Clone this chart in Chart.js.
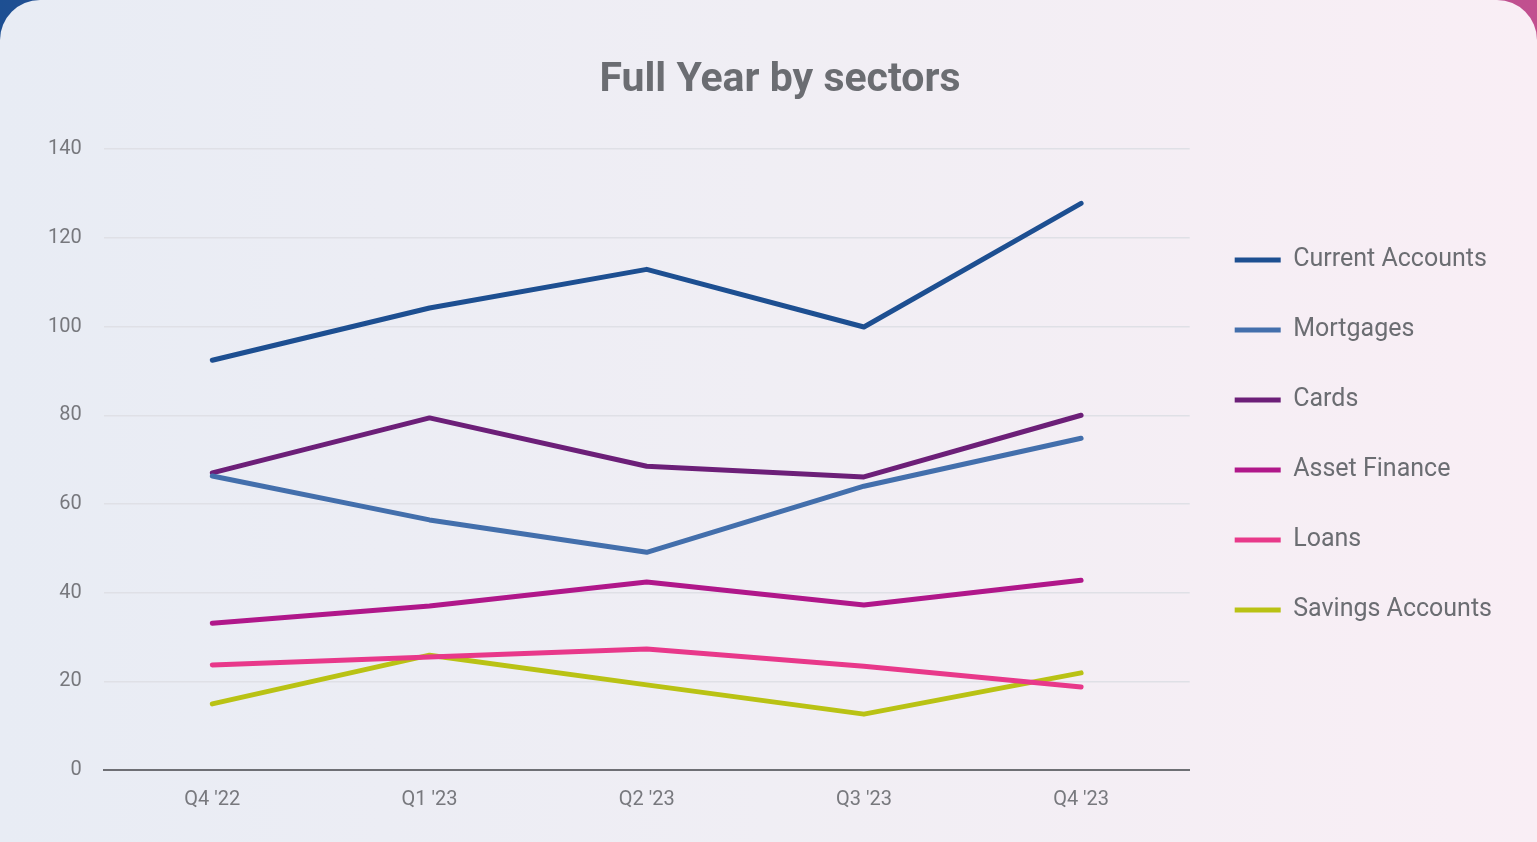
<!DOCTYPE html>
<html>
<head>
<meta charset="utf-8">
<script src="https://cdn.jsdelivr.net/npm/chart.js@4.4.1/dist/chart.umd.min.js"></script>
<style>
  html, body { margin: 0; padding: 0; width: 1537px; height: 842px; overflow: hidden; }
  body { background: linear-gradient(90deg, #1d4f92 0%, #6a4f92 50%, #c2508f 100%); }
  #card { position: absolute; left: 0; top: 0; width: 1537px; height: 900px; border-radius: 40px;
          background: linear-gradient(90deg, #e8ecf4 0%, #f0eef4 50%, #f9eef5 100%); }
  #wrap { position: absolute; left: 0; top: 0; width: 1537px; height: 842px; }
</style>
</head>
<body>
<div id="card"></div>
<div id="wrap"><canvas id="c"></canvas></div>
<script>
const categories = ["Q4 '22", "Q1 '23", "Q2 '23", "Q3 '23", "Q4 '23"];
const currentAccounts = [92.4, 104.2, 112.9, 99.9, 127.8];
const mortgages       = [66.3, 56.4, 49.1, 64.0, 74.8];
const cards           = [67.0, 79.4, 68.5, 66.1, 80.0];
const assetFinance    = [33.1, 37.0, 42.4, 37.2, 42.8];
const loans           = [23.7, 25.5, 27.3, 23.4, 18.7];
const savingsAccounts = [14.9, 25.9, 19.2, 12.6, 21.9];
const yTicks = [0, 20, 40, 60, 80, 100, 120, 140];

const seriesNames = ["Current Accounts", "Mortgages", "Cards", "Asset Finance", "Loans", "Savings Accounts"];
const seriesData = [currentAccounts, mortgages, cards, assetFinance, loans, savingsAccounts];
const seriesColors = ["#1d4f91", "#436fac", "#6c1f78", "#b0178a", "#e8388a", "#b9c214"];

const FONT = "Roboto, 'Noto Sans', sans-serif";
const GREY = "#6b6d72";

const titleShift = {
  id: 'titleShift',
  afterLayout(chart) {
    const t = chart.titleBlock;
    if (t) { t.left += 16; t.right += 16; }
  }
};

new Chart(document.getElementById('c'), {
  type: 'line',
  data: {
    labels: categories,
    datasets: seriesNames.map((n, i) => ({
      label: n,
      data: seriesData[i],
      borderColor: seriesColors[i],
      backgroundColor: seriesColors[i],
      borderWidth: 5,
      borderCapStyle: 'round',
      borderJoinStyle: 'round',
      pointRadius: 0,
      pointHoverRadius: 0,
      tension: 0,
      fill: false
    }))
  },
  plugins: [titleShift],
  options: {
    responsive: true,
    maintainAspectRatio: false,
    animation: false,
    layout: { padding: { left: 26, right: 35, top: 40, bottom: 12 } },
    plugins: {
      title: {
        display: true,
        text: 'Full Year by sectors',
        color: GREY,
        font: { family: FONT, size: 41, weight: 'bold' },
        padding: { top: 16, bottom: 44 }
      },
      legend: {
        position: 'right',
        align: 'center',
        labels: {
          usePointStyle: true,
          pointStyle: 'line',
          pointStyleWidth: 46,
          color: GREY,
          font: { family: FONT, size: 25 },
          padding: 45
        }
      },
      tooltip: { enabled: false }
    },
    scales: {
      x: {
        offset: true,
        grid: { display: false, drawTicks: false },
        border: { display: true, color: '#6e6f74', width: 2 },
        ticks: { color: '#77787d', font: { family: FONT, size: 20 }, padding: 18 }
      },
      y: {
        min: 0, max: 140,
        afterBuildTicks: (axis) => { axis.ticks = yTicks.map(v => ({ value: v })); },
        grid: { color: '#dfe0e6', lineWidth: 1.5, drawTicks: false },
        border: { display: false },
        ticks: { color: '#77787d', font: { family: FONT, size: 20 }, padding: 22 }
      }
    }
  }
});
</script>
</body>
</html>
